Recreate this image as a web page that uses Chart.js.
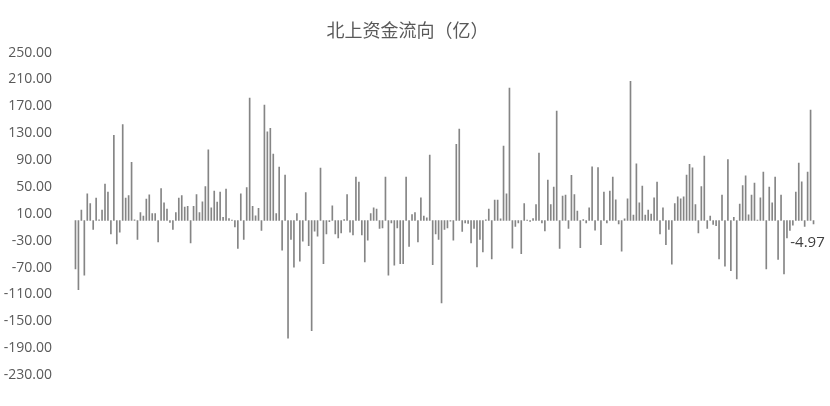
<!DOCTYPE html>
<html>
<head>
<meta charset="utf-8">
<script src="https://cdn.jsdelivr.net/npm/chart.js@4.4.1/dist/chart.umd.min.js"></script>
<style>
  html, body { margin: 0; padding: 0; background: #fff; }
  #wrap { width: 830px; height: 406px; position: relative; }
</style>
</head>
<body>
<div id="wrap"><canvas id="flowChart"></canvas></div>
<script>
// --- Données ---
const title = "北上资金流向（亿）";

const flows = [
  -72.1, -102.9, 15.4, -81.5, 39.8, 25.3, -13.4, 33.3, 1.0, 15.4,
  54.1, 42.2, -19.9, 126.7, -34.7, -17.4, 142.7, 33.3, 37.3, 86.5,
  1.0, -28.3, 11.9, 6.5, 31.8, 38.2, 10.5, 10.5, -31.8, 47.7,
  26.3, 16.9, -3.0, -13.4, 11.9, 33.3, 37.3, 19.9, 21.3, -33.3,
  21.3, 38.7, 11.9, 27.9, 50.7, 105.4, 18.9, 43.8, 27.4, 42.2,
  4.9, 46.7, 3.0, 0.5, -9.4, -41.7, 39.8, -28.3, 49.2, 182.3,
  21.3, 7.0, 18.3, -14.9, 172.0, 132.2, 137.1, 98.9, 10.5, 79.5,
  -44.3, 67.5, -175.0, -28.3, -69.6, 10.5, -60.7, -30.9, 41.7, -37.3,
  -164.0, -15.9, -23.4, 78.0, -64.1, -19.9, -1.9, 21.8, -19.9, -25.8,
  -18.3, 1.5, 38.7, -17.4, -21.3, 64.6, 57.2, -21.3, -61.6, -29.3,
  10.5, 18.9, 16.9, -11.9, -11.0, 64.6, -81.5, -3.5, -66.6, -11.0,
  -64.1, -64.1, 64.6, -38.7, 8.9, 11.9, -31.8, 33.8, 6.5, 4.0,
  97.4, -65.6, -19.9, -28.3, -122.8, -13.4, -11.0, -1.0, -29.3, 113.3,
  136.1, -16.4, -3.5, -4.5, -33.3, -11.9, -69.1, -28.3, -46.7, 1.0,
  16.9, -57.2, 30.3, 30.3, 2.5, 110.8, 39.8, 197.3, -41.2, -8.9,
  -3.5, -49.2, 25.3, 0.5, -1.5, 3.0, 23.9, 100.3, -3.5, -15.4,
  60.2, 23.9, 49.7, 163.0, -41.7, 36.3, 37.7, -11.9, 67.1, 38.7,
  13.9, -40.3, 1.5, -3.5, 18.9, 80.1, -14.5, 79.0, -35.8, 42.2,
  -3.5, 43.8, 64.6, 30.9, -4.9, -45.7, 2.5, 32.3, 207.3, 8.0,
  84.5, 26.3, 51.1, 8.0, 15.4, 9.4, 33.8, 57.2, -19.9, 18.9,
  -35.8, -13.4, -65.1, 25.3, 35.3, 32.3, 35.3, 67.5, 83.5, 78.5,
  23.9, -18.3, 50.7, 95.9, -11.9, 6.5, -5.9, -7.5, -57.2, 37.7,
  -68.1, 90.9, -74.5, 4.9, -86.9, 24.4, 52.2, 66.6, 8.4, 37.7,
  55.7, 0.5, 33.8, 72.1, -72.1, 49.7, 26.3, 64.6, -58.1, 37.7,
  -79.5, -25.8, -14.9, -7.0, 42.2, 85.5, 57.6, -8.9, 72.1, 164.5,
  -4.97
];

// pas de libellés visibles sur l'axe X : simple numéro de séance
const days = flows.map((_, i) => String(i + 1));

const yMin = -230;
const yMax = 250;
const yStep = 40;

// --- Étiquette de la dernière valeur ---
const lastLabel = {
  id: "lastLabel",
  afterDatasetsDraw(chart) {
    const meta = chart.getDatasetMeta(0);
    const bar = meta.data[meta.data.length - 1];
    const v = flows[flows.length - 1];
    const ctx = chart.ctx;
    ctx.save();
    ctx.font = "15px 'Open Sans'";
    ctx.fillStyle = "#404040";
    ctx.textAlign = "center";
    ctx.textBaseline = "middle";
    ctx.fillText(v.toFixed(2), bar.x - 6, bar.y + 19);
    ctx.restore();
  }
};

new Chart(document.getElementById("flowChart"), {
  type: "bar",
  data: {
    labels: days,
    datasets: [{
      data: flows,
      backgroundColor: "#858585",
      barThickness: 1
    }]
  },
  options: {
    responsive: true,
    maintainAspectRatio: false,
    animation: false,
    layout: { padding: { left: 0, right: 15, top: 0, bottom: 31 } },
    plugins: {
      legend: { display: false },
      tooltip: { enabled: false },
      title: {
        display: true,
        text: title,
        color: "#595959",
        font: { family: "'Noto Sans CJK SC'", size: 18, weight: "normal" },
        padding: { top: 19, bottom: 12 }
      }
    },
    scales: {
      x: {
        display: false,
        grid: { display: false }
      },
      y: {
        min: yMin,
        max: yMax,
        grid: { display: false },
        border: { display: false },
        afterFit: (scale) => { scale.width = 74; },
        ticks: {
          stepSize: yStep,
          padding: 14,
          color: "#595959",
          font: { family: "'Open Sans'", size: 14 },
          callback: (v) => v.toFixed(2)
        }
      }
    }
  },
  plugins: [lastLabel]
});
</script>
</body>
</html>
